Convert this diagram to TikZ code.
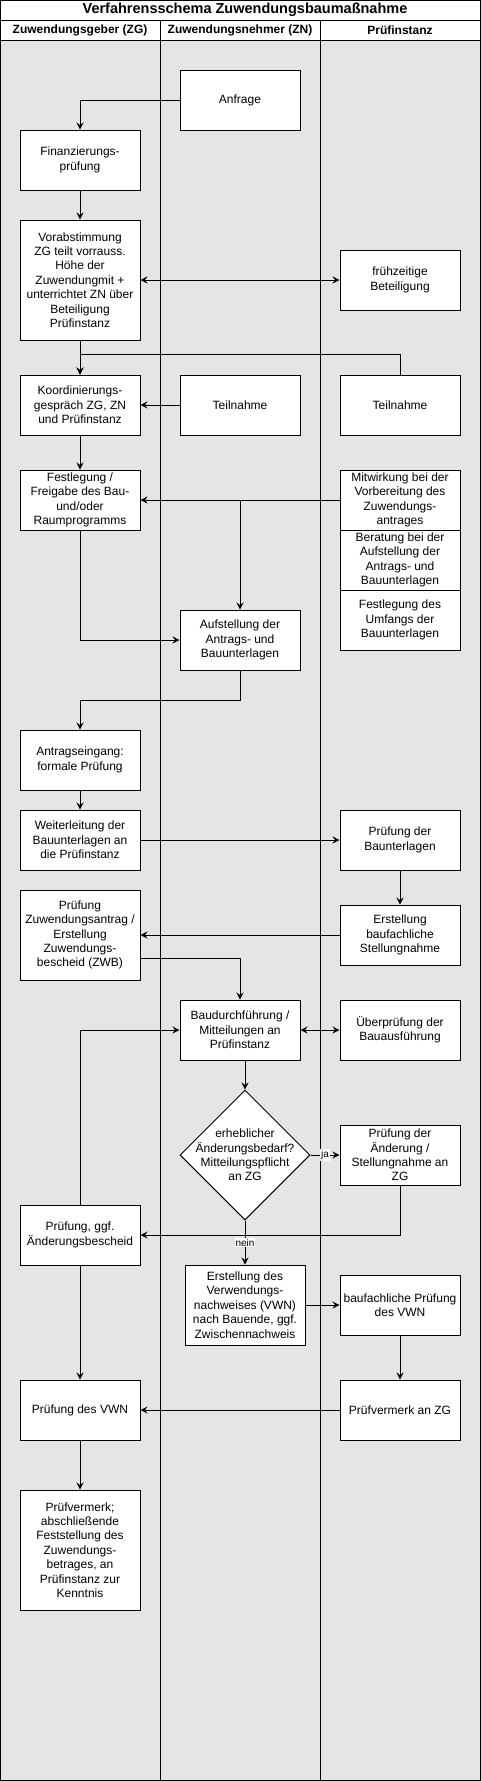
\documentclass[tikz,border=0pt]{standalone}
\usepackage{fontspec}
\setmainfont{Liberation Sans}
\usetikzlibrary{arrows.meta, positioning, shapes.geometric, calc}

\begin{document}
\begin{tikzpicture}[x=1pt, y=-1pt, line width=1pt,
        lane/.style={fill=black!10, draw=none},
        procbox/.style={draw, fill=white, minimum width=120pt, minimum height=60pt, align=center, inner sep=1pt, font=\fontsize{12}{14.4}\selectfont},
        decision/.style={draw, fill=white, diamond, minimum width=130pt, minimum height=130pt, inner sep=0pt},
        hdr/.style={font=\bfseries\fontsize{12}{14.4}\selectfont},
        arrow/.style={-{Stealth[length=7pt, width=7pt, inset=2.5pt]}},
        darrow/.style={{Stealth[length=7pt, width=7pt, inset=2.5pt]}-{Stealth[length=7pt, width=7pt, inset=2.5pt]}},
        edgelabel/.style={fill=white, inner sep=1pt, font=\fontsize{10}{12}\selectfont}
    ]
        \useasboundingbox (0,0) rectangle (481,1781);

        % Pool with three lanes
        \fill[lane] (0.5,40) rectangle (480,1780);
        \draw (0.5,0.5) rectangle (480,1780);
        \draw (0.5,20) -- (480,20);
        \draw (0.5,40) -- (480,40);
        \draw (160,20) -- (160,1780);
        \draw (320,20) -- (320,1780);
        \node[font=\bfseries\fontsize{14.5}{17}\selectfont] (title) at (245,10) {Verfahrensschema Zuwendungsbaumaßnahme};
        \foreach \lx/\lname in {80/Zuwendungsgeber (ZG), 240/Zuwendungsnehmer (ZN), 400/Prüfinstanz}
            \node[hdr] (hdr\lx) at (\lx,30) {\lname};

        % Zuwendungsgeber (left lane)
        \node[procbox] (finanz) at (80,160) {Finanzierungs-\\prüfung};
        \node[procbox, minimum height=120pt] (vorab) at (80,280) {Vorabstimmung\\ZG teilt vorrauss.\\Höhe der\\Zuwendungmit +\\unterrichtet ZN über\\Beteiligung\\Prüfinstanz};
        \node[procbox] (koord) at (80,405) {Koordinierungs-\\gespräch ZG, ZN\\und Prüfinstanz};
        \node[procbox] (freig) at (80,500) {Festlegung /\\Freigabe des Bau-\\und/oder\\Raumprogramms};
        \node[procbox] (antrag) at (80,760) {Antragseingang:\\formale Prüfung};
        \node[procbox] (weiter) at (80,840) {Weiterleitung der\\Bauunterlagen an\\die Prüfinstanz};
        \node[procbox, minimum height=90pt] (pruefZA) at (80,935) {Prüfung\\Zuwendungsantrag /\\Erstellung\\Zuwendungs-\\bescheid (ZWB)};
        \node[procbox] (pruefAE) at (80,1235) {Prüfung, ggf.\\Änderungsbescheid};
        \node[procbox] (pruefVWN) at (80,1410) {Prüfung des VWN};
        \node[procbox, minimum height=120pt] (pvEnd) at (80,1550) {Prüfvermerk;\\abschließende\\Feststellung des\\Zuwendungs-\\betrages, an\\Prüfinstanz zur\\Kenntnis};

        % Zuwendungsnehmer (middle lane)
        \node[procbox] (anfrage) at (240,100) {Anfrage};
        \node[procbox] (teilZN) at (240,405) {Teilnahme};
        \node[procbox] (aufst) at (240,640) {Aufstellung der\\Antrags- und\\Bauunterlagen};
        \node[procbox] (baud) at (240,1030) {Baudurchführung /\\Mitteilungen an\\Prüfinstanz};
        \node[decision] (chk) at (245,1155) {};
        \node[align=center, font=\fontsize{12}{14.4}\selectfont] (chktxt) at (chk.center) {erheblicher\\Änderungsbedarf?\\Mitteilungspflicht\\an ZG};
        \node[procbox, minimum height=80pt] (erstVWN) at (245,1305) {Erstellung des\\Verwendungs-\\nachweises (VWN)\\nach Bauende, ggf.\\Zwischennachweis};

        % Pruefinstanz (right lane)
        \node[procbox] (frueh) at (400,280) {frühzeitige\\Beteiligung};
        \node[procbox] (teilPI) at (400,405) {Teilnahme};
        \node[procbox] (mitw) at (400,500) {Mitwirkung bei der\\Vorbereitung des\\Zuwendungs-\\antrages};
        \node[procbox] (berat) at (400,560) {Beratung bei der\\Aufstellung der\\Antrags- und\\Bauunterlagen};
        \node[procbox] (umfang) at (400,620) {Festlegung des\\Umfangs der\\Bauunterlagen};
        \node[procbox] (pruefBU) at (400,840) {Prüfung der\\Baunterlagen};
        \node[procbox] (erstBF) at (400,935) {Erstellung\\baufachliche\\Stellungnahme};
        \node[procbox] (ueberpr) at (400,1030) {Überprüfung der\\Bauausführung};
        \node[procbox] (pruefAend) at (400,1155) {Prüfung der\\Änderung /\\Stellungnahme an\\ZG};
        \node[procbox] (baufVWN) at (400,1305) {baufachliche Prüfung\\des VWN};
        \node[procbox] (pvZG) at (400,1410) {Prüfvermerk an ZG};

        % Connectors
        \draw[arrow] (anfrage.west) -| (finanz.north);
        \draw[arrow] (finanz.south) -- (vorab.north);
        \draw[darrow] (vorab.east) -- (frueh.west);
        \draw[arrow] (vorab.south) -- (koord.north);
        \draw[arrow] (teilPI.north) -- ++(0,-20) -| (koord.north);
        \draw[arrow] (teilZN.west) -- (koord.east);
        \draw[arrow] (koord.south) -- (freig.north);
        \draw[arrow] (mitw.west) -- (freig.east);
        \draw[arrow] (aufst.north |- mitw.west) -- (aufst.north);
        \draw[arrow] (freig.south) |- (aufst.west);
        \draw[arrow] (aufst.south) -- ++(0,30) -| (antrag.north);
        \draw[arrow] (antrag.south) -- (weiter.north);
        \draw[arrow] (weiter.east) -- (pruefBU.west);
        \draw[arrow] (pruefBU.south) -- (erstBF.north);
        \draw[arrow] (erstBF.west) -- (pruefZA.east);
        \draw[arrow] ($(pruefZA.east)+(0,23)$) -| (baud.north);
        \draw[darrow] (baud.east) -- (ueberpr.west);
        \draw[arrow] (pruefAE.north) |- (baud.west);
        \draw[arrow] (baud.south -| chk.north) -- (chk.north);
        \draw[arrow] (chk.east) -- node[edgelabel] (lblja) {ja} (pruefAend.west);
        \draw[arrow] (pruefAend.south) |- (pruefAE.east);
        \draw[arrow] (chk.south) -- node[edgelabel] (lblnein) {nein} (erstVWN.north);
        \draw[arrow] (erstVWN.east) -- (baufVWN.west);
        \draw[arrow] (baufVWN.south) -- (pvZG.north);
        \draw[arrow] (pvZG.west) -- (pruefVWN.east);
        \draw[arrow] (pruefAE.south) -- (pruefVWN.north);
        \draw[arrow] (pruefVWN.south) -- (pvEnd.north);

    \end{tikzpicture}
\end{document}
